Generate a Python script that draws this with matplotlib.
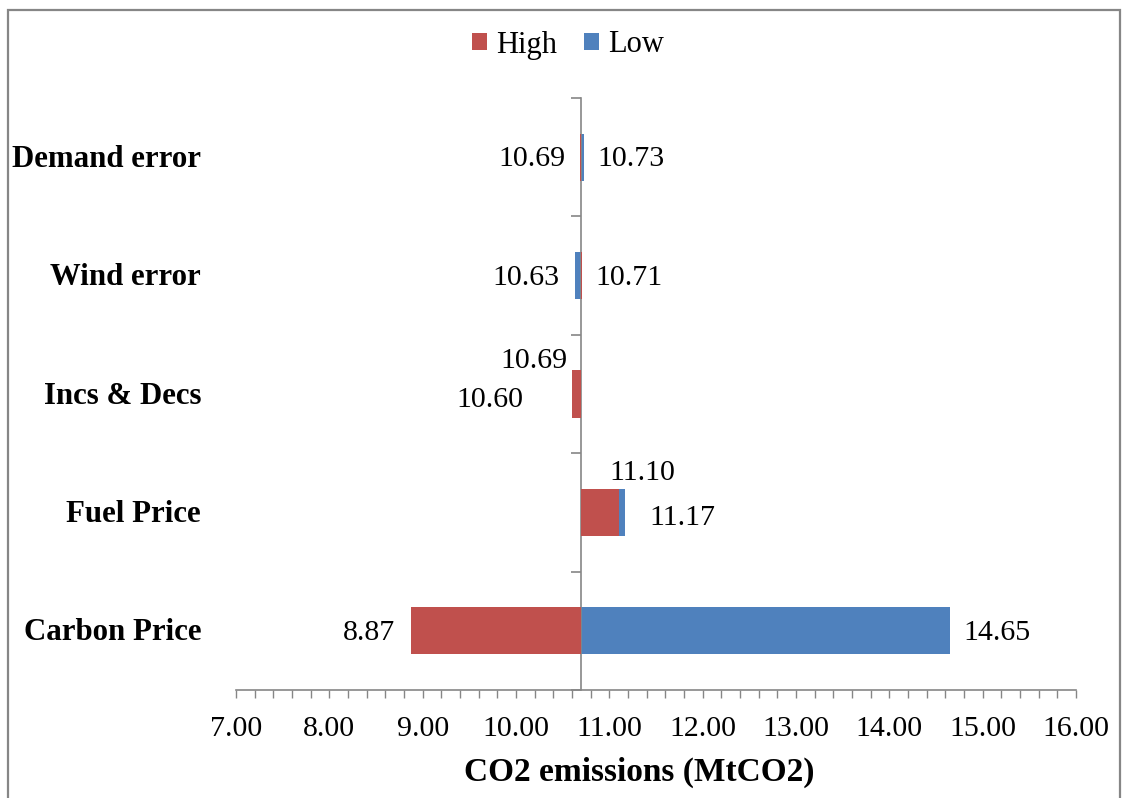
import matplotlib
matplotlib.use("Agg")
import matplotlib.pyplot as plt
from matplotlib.ticker import MultipleLocator, FixedLocator, NullFormatter
from matplotlib.patches import Rectangle
from matplotlib.transforms import offset_copy, blended_transform_factory

# ---- data ----
categories = ["Carbon Price", "Fuel Price", "Incs & Decs", "Wind error", "Demand error"]
high_values = [8.87, 11.10, 10.60, 10.71, 10.69]
low_values = [14.65, 11.17, 10.69, 10.63, 10.73]
base_value = 10.70
series_names = ["High", "Low"]
x_ticks = [7.0, 8.0, 9.0, 10.0, 11.0, 12.0, 13.0, 14.0, 15.0, 16.0]

# ---- style ----
RED = "#C0504D"
BLUE = "#4F81BD"
GRAY = "#868686"
FONT = "Liberation Serif"
plt.rcParams["font.family"] = [FONT, "DejaVu Serif"]

W, H = 1122, 798
fig = plt.figure(figsize=(W / 100, H / 100), dpi=100)
ax = fig.add_axes([236 / W, 1 - 690 / H, (1076 - 236) / W, (690 - 98) / H])

ypos = list(range(len(categories)))
bar_h = 0.40

# Low drawn first (behind), High on top
ax.barh(ypos, [v - base_value for v in low_values], left=base_value, height=bar_h,
        color=BLUE, label=series_names[1], zorder=2)
ax.barh(ypos, [v - base_value for v in high_values], left=base_value, height=bar_h,
        color=RED, label=series_names[0], zorder=3)

ax.set_xlim(x_ticks[0], x_ticks[-1])
ax.set_ylim(-0.5, len(categories) - 0.5)

# x axis
ax.xaxis.set_major_locator(FixedLocator(x_ticks))
ax.xaxis.set_minor_locator(MultipleLocator(0.2))
ax.set_xticklabels([f"{t:.2f}" for t in x_ticks], fontsize=21.5)
ax.tick_params(axis="x", which="both", direction="out", length=5.5, width=1.0,
               color=GRAY, pad=13)
ax.set_xlabel("CO2 emissions (MtCO2)", fontsize=24, fontweight="bold")
ax.xaxis.set_label_coords((639 - 236) / (1076 - 236), -0.113)

# vertical (category) axis at the base value
for s in ["top", "right"]:
    ax.spines[s].set_visible(False)
ax.spines["bottom"].set_color(GRAY)
ax.spines["bottom"].set_linewidth(1.2)
ax.spines["left"].set_position(("data", base_value))
ax.spines["left"].set_color(GRAY)
ax.spines["left"].set_linewidth(1.2)
ax.yaxis.set_major_locator(FixedLocator([y - 0.5 for y in range(len(categories) + 1)]))
ax.yaxis.set_major_formatter(NullFormatter())
ax.tick_params(axis="y", which="major", direction="out", length=7.5, width=1.2, color=GRAY)

# category labels at the left of the plot area
tr = blended_transform_factory(ax.transAxes, ax.transData)
for y, name in zip(ypos, categories):
    t = offset_copy(tr, fig=fig, x=0, y=-2 * 0.72, units="points")
    ax.text(-35 / (1076 - 236), y, name, transform=t, ha="right", va="center",
            fontsize=22.2, fontweight="bold")

# data labels
# offsets in pixels (dx, dy) relative to bar end; dy positive = down
special = {
    ("High", "Fuel Price"): (24, -41, "center"),
    ("Low", "Fuel Price"): (24, 4, "left"),
    ("High", "Incs & Decs"): (-49, 4, "right"),
    ("Low", "Incs & Decs"): (-13, -35, "right"),
}
for sname, vals in (("High", high_values), ("Low", low_values)):
    for y, cat, v in zip(ypos, categories, vals):
        if (sname, cat) in special:
            dx, dy, ha = special[(sname, cat)]
        else:
            if v < base_value:
                dx, dy, ha = -15, 0, "right"
            else:
                dx, dy, ha = 13, 0, "left"
        t = offset_copy(ax.transData, fig=fig, x=dx * 0.72, y=-(dy + 2) * 0.72, units="points")
        ax.text(v, y, f"{v:.2f}", transform=t, ha=ha, va="center", fontsize=21.5, zorder=5)

# legend
handles, labels = ax.get_legend_handles_labels()
order = [labels.index("High"), labels.index("Low")]
fig.legend([handles[i] for i in order], [labels[i] for i in order],
           loc="center", bbox_to_anchor=(568 / W, 1 - 45 / H), ncol=2, frameon=False,
           fontsize=22, handlelength=0.5, handleheight=0.5, handletextpad=0.3,
           columnspacing=0.85)

# chart border
fig.patches.append(Rectangle((7.5 / W, -0.02), (1120 - 7.5) / W, 1.02 - 9.5 / H + 0.0,
                             transform=fig.transFigure, fill=False, edgecolor=GRAY,
                             linewidth=1.6))

fig.savefig("out.png", dpi=100)
